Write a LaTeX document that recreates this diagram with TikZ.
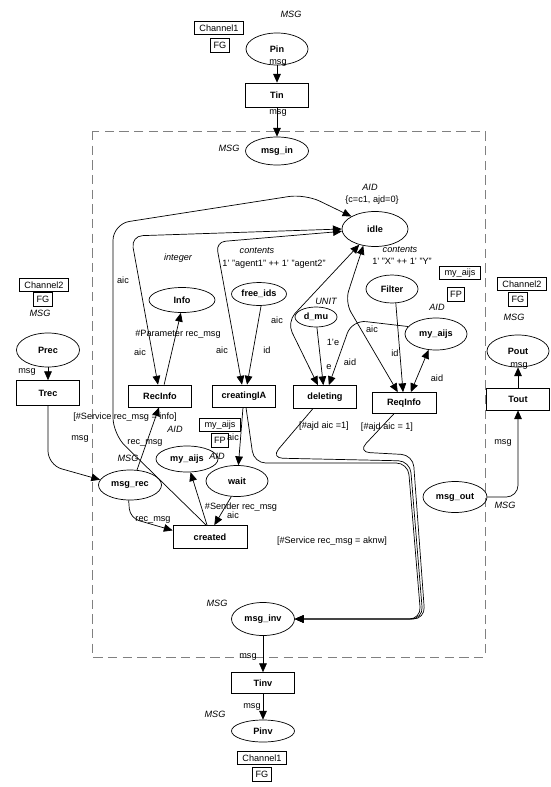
\documentclass[tikz,border=0pt]{standalone}
\usepackage{fontspec}
\setmainfont{Liberation Sans}
\usetikzlibrary{shapes.geometric,arrows.meta}
\newcommand{\netsize}{\fontsize{7.8}{9.4}\selectfont}
\tikzset{
  >={Triangle[length=7.5pt,width=6.5pt]},
  place/.style={draw, ellipse, inner sep=0pt, font=\netsize\bfseries},
  trans/.style={draw, inner sep=0pt, minimum width=1.89cm, minimum height=0.68cm, font=\netsize\bfseries},
  tagbox/.style={draw, inner xsep=4.5pt, inner ysep=1pt, minimum height=0.37cm, font=\netsize},
  fgbox/.style={tagbox, inner xsep=2.5pt, minimum height=0.42cm},
  coltype/.style={font=\netsize\itshape, inner sep=1pt},
  inscr/.style={font=\netsize, inner sep=1pt},
}

\begin{document}
\begin{tikzpicture}[x=0.03cm, y=-0.03cm, semithick]
      \useasboundingbox (0,0) rectangle (550,787);
      \draw[gray, dash pattern=on 8pt off 4.5pt] (92,131) rectangle (485,657);

      % input port
      \node[coltype] (tyPin) at (291,14) {MSG};
      \node[tagbox] (chPin) at (219,28) {Channel1};
      \node[fgbox] (fgPin) at (220,45) {FG};
      \node[place, minimum width=1.86cm, minimum height=0.96cm] (Pin) at (277,49) {Pin};
      \node[trans, minimum height=0.72cm] (Tin) at (277,95) {Tin};
      \node[place, minimum width=1.89cm, minimum height=0.84cm] (msgin) at (277,151) {msg\_in};
      \node[coltype] (tyMsgIn) at (229,148) {MSG};
      \node[inscr] (lbPin) at (278,63) {msg};
      \node[inscr] (lbTin) at (278,113) {msg};

      % places
      \node[place, minimum width=1.98cm, minimum height=1.05cm] (idle) at (375,229) {idle};
      \node[place, minimum width=1.98cm, minimum height=0.75cm] (Info) at (182,300) {Info};
      \node[place, minimum width=1.65cm, minimum height=0.69cm] (freeids) at (259,294) {free\_ids};
      \node[place, minimum width=1.26cm, minimum height=0.60cm] (dmu) at (316,317) {d\_mu};
      \node[place, minimum width=1.56cm, minimum height=0.84cm] (Filter) at (392,289) {Filter};
      \node[place, minimum width=1.86cm, minimum height=0.96cm] (aijsB) at (436,334) {my\_aijs};
      \node[place, minimum width=1.86cm, minimum height=0.78cm] (aijsA) at (187,459) {my\_aijs};
      \node[place, minimum width=1.86cm, minimum height=0.93cm] (wait) at (237,481) {wait};
      \node[place, minimum width=1.89cm, minimum height=0.90cm] (msgrec) at (130,485) {msg\_rec};
      \node[place, minimum width=1.92cm, minimum height=0.93cm] (msgout) at (455,497) {msg\_out};
      \node[place, minimum width=1.89cm, minimum height=0.99cm] (msginv) at (263,619) {msg\_inv};
      \node[place, minimum width=1.89cm, minimum height=0.66cm] (Pinv) at (263,731) {Pinv};
      \node[place, minimum width=1.89cm, minimum height=1.02cm] (Prec) at (48,350) {Prec};
      \node[place, minimum width=1.86cm, minimum height=0.96cm] (Pout) at (518,351) {Pout};

      % transitions
      \node[trans, minimum height=0.75cm] (Trec) at (48,393) {Trec};
      \node[trans, minimum height=0.66cm] (RecInfo) at (160,396) {RecInfo};
      \node[trans, minimum height=0.66cm] (creatingIA) at (244,396) {creatingIA};
      \node[trans, minimum height=0.69cm] (deleting) at (325,397) {deleting};
      \node[trans, minimum width=1.92cm, minimum height=0.63cm] (ReqInfo) at (404,403) {ReqInfo};
      \node[trans, minimum width=2.22cm, minimum height=0.69cm] (created) at (210,537) {created};
      \node[trans, minimum height=0.66cm] (Tout) at (518,399) {Tout};
      \node[trans, minimum height=0.63cm] (Tinv) at (263,683) {Tinv};

      % types, markings, tags
      \node[coltype] (tyIdle) at (370,187) {AID};
      \node[inscr] (mkIdle) at (372,200) {\{c=c1, ajd=0\}};
      \node[coltype] (tyInfo) at (178,258) {integer};
      \node[coltype] (tyFree) at (257,251) {contents};
      \node[inscr] (mkFree) at (274,264) {1' "agent1" ++ 1' "agent2"};
      \node[coltype] (tyDmu) at (326,301) {UNIT};
      \node[inscr] (mkDmu) at (333,342) {1'e};
      \node[coltype] (tyFilter) at (400,250) {contents};
      \node[inscr] (mkFilter) at (402,261) {1' "X" ++ 1' "Y"};
      \node[coltype] (tyAijsB) at (437,307) {AID};
      \node[tagbox] (fuAijsB) at (460,273) {my\_aijs};
      \node[fgbox] (fpAijsB) at (456,294) {FP};
      \node[coltype] (tyAijsA) at (175,429) {AID};
      \node[tagbox] (fuAijsA) at (220,425) {my\_aijs};
      \node[fgbox] (fpAijsA) at (220,440) {FP};
      \node[coltype] (tyWait) at (217,456) {AID};
      \node[coltype] (tyMsgRec) at (128,458) {MSG};
      \node[coltype] (tyMsgInv) at (217,603) {MSG};
      \node[coltype] (tyPinv) at (215,714) {MSG};
      \node[tagbox] (chPinv) at (262,758) {Channel1};
      \node[fgbox] (fgPinv) at (262,774) {FG};
      \node[tagbox] (chPrec) at (44,285) {Channel2};
      \node[fgbox] (fgPrec) at (43,299) {FG};
      \node[coltype] (tyPrec) at (40,313) {MSG};
      \node[tagbox] (chPout) at (522,284) {Channel2};
      \node[fgbox] (fgPout) at (518,299) {FG};
      \node[coltype] (tyPout) at (514,317) {MSG};
      \node[coltype] (tyMsgOut) at (505,505) {MSG};

      % guards
      \node[inscr] (gdRecInfo) at (125,417) {[\#Service rec\_msg = info]};
      \node[inscr] (gdDeleting) at (324,426) {[\#ajd aic =1]};
      \node[inscr] (gdReqInfo) at (387,427) {[\#ajd aic = 1]};
      \node[inscr] (gdCreated) at (332,541) {[\#Service rec\_msg = aknw]};

      % arc inscriptions
      \node[inscr] (lbPrec) at (27,372) {msg};
      \node[inscr] (lbTrec) at (80,439) {msg};
      \node[inscr] (lbPout) at (519,366) {msg};
      \node[inscr] (lbMsgOut) at (503,443) {msg};
      \node[inscr] (lbMsgInv) at (248,657) {msg};
      \node[inscr] (lbTinv) at (252,707) {msg};
      \node[inscr] (lbOuter) at (123,280) {aic};
      \node[inscr] (lbRecIdle) at (140,352) {aic};
      \node[inscr] (lbParam) at (178,334) {\#Parameter rec\_msg};
      \node[inscr] (lbCrIdle) at (222,350) {aic};
      \node[inscr] (lbFree) at (267,350) {id};
      \node[inscr] (lbDelIdle) at (277,320) {aic};
      \node[inscr] (lbReqIdle) at (372,329) {aic};
      \node[inscr] (lbDmu) at (329,367) {e};
      \node[inscr] (lbDelAid) at (350,362) {aid};
      \node[inscr] (lbFilter) at (395,353) {id};
      \node[inscr] (lbReqAid) at (437,378) {aid};
      \node[inscr] (lbRecMsg) at (145,443) {rec\_msg};
      \node[inscr] (lbAijsA) at (233,437) {aic};
      \node[inscr] (lbSender) at (241,507) {\#Sender rec\_msg};
      \node[inscr] (lbWait) at (233,515) {aic};
      \node[inscr] (lbCreated) at (153,520) {rec\_msg};

      % arcs
      \draw [->] (Pin) -- (Tin);
      \draw [->] (Tin) -- (msgin);
      \draw [->] (Prec) -- (Trec);
      \draw [->, rounded corners=12pt] (Trec.south) -- (48,465) -- (msgrec.170);
      \draw [->] (Tout) -- (Pout);
      \draw [->, rounded corners=10pt] (msgout.east) -- (518,497) -- (Tout.south);
      \draw [->] (msginv) -- (Tinv);
      \draw [->] (Tinv) -- (Pinv);

      \draw [->, rounded corners=14pt] (created.108) -- (113,434) -- (113,224) -- (305,194) -- (idle.152);
      \draw [<->, rounded corners=10pt] (RecInfo.100) -- (131,236) -- (idle.180);
      \draw [<->, rounded corners=8pt] (creatingIA.100) -- (216,242) -- (idle.184);
      \draw [->] (RecInfo.70) -- (Info.-95);
      \draw [->] (freeids.-80) -- (creatingIA.75);
      \draw [<->, rounded corners=10pt] (idle.-135) -- (287,322) -- (deleting.121);
      \draw [<->, rounded corners=10pt] (idle.-125) -- (345,302) -- (ReqInfo.120);
      \draw [->] (dmu.-85) -- (deleting.98);
      \draw [->, rounded corners=12pt] (aijsB.165) -- (352,320) -- (deleting.72);
      \draw [->] (Filter.-75) -- (ReqInfo.95);
      \draw [<->] (ReqInfo.58) -- (aijsB.-115);

      \draw [->] (msgrec.65) -- (RecInfo.-95);
      \draw [->] (creatingIA.-95) -- (wait.85);
      \draw [->] (created.104) -- (aijsA.-75);
      \draw [->] (wait.-110) -- (created.70);
      \draw [->, rounded corners=8pt] (msgrec.-95) -- (130,518) -- (created.170);

      \draw [->, rounded corners=10pt] (ReqInfo.-133) -- (358,452) -- (413,455) -- (425,619) -- (msginv.east);
      \draw [->, rounded corners=10pt] (deleting.-136) -- (271,458) -- (410,461) -- (423,619) -- (msginv.east);
      \draw [->, rounded corners=10pt] (creatingIA.-80) -- (254,463) -- (408,463) -- (421,619) -- (msginv.east);
    \end{tikzpicture}
\end{document}
